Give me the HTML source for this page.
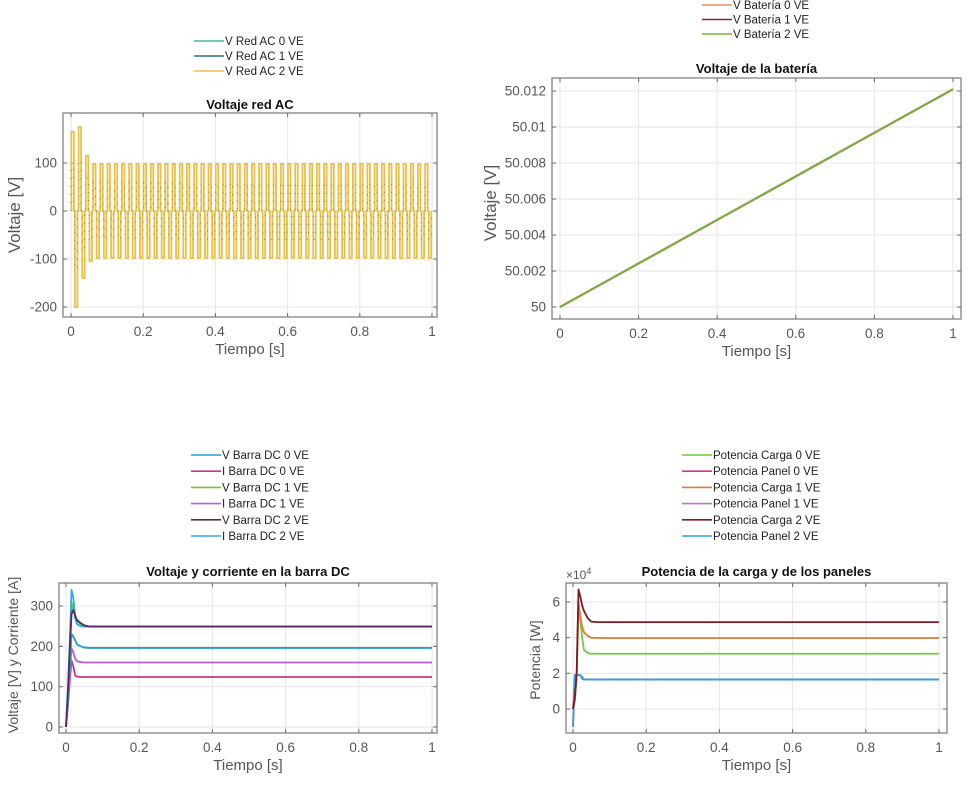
<!DOCTYPE html>
<html><head><meta charset="utf-8">
<style>
html,body{margin:0;padding:0;background:#fff;}
svg{display:block;font-family:"Liberation Sans",sans-serif;}
.tick{font-size:13.5px;fill:#555;}
.ttl{font-size:13px;font-weight:bold;fill:#111;}
.lab{font-size:15px;fill:#555;}
.leg{font-size:11.5px;fill:#222;}
</style></head>
<body>
<svg id="fig" width="972" height="786" viewBox="0 0 972 786"></svg>
<script>
// ---------- data ----------
const acTransientPeaks = [165, -200, 175, -140, 115, -105];
const acSteadyPeak = 98;
const acHalfCycles = 100;
const acFreq = 50;
const acLegend = ["V Red AC 0 VE", "V Red AC 1 VE", "V Red AC 2 VE"];
const acColors = ["#3cb8a0", "#2a6f8a", "#e8c04a"];

const batTime = [0, 1];
const batV0 = [50, 50.0121];
const batV1 = [50, 50.0121];
const batV2 = [50, 50.0121];
const batLegend = ["V Batería 0 VE", "V Batería 1 VE", "V Batería 2 VE"];
const batColors = ["#e0926a", "#8a2040", "#7ab040"];
const batYTicks = [50, 50.002, 50.004, 50.006, 50.008, 50.01, 50.012];

const dcTime = [0, 0.005, 0.01, 0.015, 0.02, 0.025, 0.03, 0.04, 0.05, 0.065, 1];
const dcV0 = [0, 60, 140, 230, 225, 215, 205, 200, 197, 196, 196];
const dcI0 = [0, 50, 110, 165, 150, 128, 125, 124, 124, 124, 124];
const dcV1 = [0, 80, 180, 280, 310, 280, 262, 255, 250, 249, 249];
const dcI1 = [0, 55, 125, 195, 185, 170, 163, 161, 160, 160, 160];
const dcV2 = [0, 80, 190, 280, 290, 275, 265, 258, 252, 249, 249];
const dcI2 = [0, 90, 200, 340, 320, 270, 255, 250, 249, 249, 249];
const dcLegend = ["V Barra DC 0 VE", "I Barra DC 0 VE", "V Barra DC 1 VE", "I Barra DC 1 VE", "V Barra DC 2 VE", "I Barra DC 2 VE"];
const dcColors = ["#1fa0d0", "#d0308a", "#70c830", "#b060d8", "#5a2860", "#30a8e8"];

const pTime = [0, 0.005, 0.01, 0.015, 0.02, 0.025, 0.03, 0.04, 0.05, 0.065, 1];
const pCarga0 = [0, 0.5, 1.8, 5.8, 5.0, 4.0, 3.3, 3.15, 3.1, 3.1, 3.1];
const pPanel0 = [-1, 1.9, 1.9, 1.9, 1.9, 1.7, 1.65, 1.65, 1.65, 1.65, 1.65];
const pCarga1 = [0, 0.5, 1.9, 6.0, 5.2, 4.6, 4.3, 4.1, 4.0, 3.98, 3.98];
const pPanel1 = [0, 1.9, 1.9, 1.9, 1.9, 1.75, 1.65, 1.65, 1.65, 1.65, 1.65];
const pCarga2 = [0, 0.6, 2.0, 6.7, 6.3, 5.8, 5.5, 5.1, 4.9, 4.87, 4.87];
const pPanel2 = [-1, 1.9, 1.9, 1.9, 1.9, 1.8, 1.65, 1.65, 1.65, 1.65, 1.65];
const pLegend = ["Potencia Carga 0 VE", "Potencia Panel 0 VE", "Potencia Carga 1 VE", "Potencia Panel 1 VE", "Potencia Carga 2 VE", "Potencia Panel 2 VE"];
const pColors = ["#70cc40", "#d8309a", "#e07838", "#c070d8", "#801828", "#30a0d8"];

const xTicks = [0, 0.2, 0.4, 0.6, 0.8, 1];
const xTickLabels = ["0", "0.2", "0.4", "0.6", "0.8", "1"];

// ---------- helpers ----------
const NS = "http://www.w3.org/2000/svg";
const fig = document.getElementById("fig");
function mk(tag, attrs, parent) {
  const e = document.createElementNS(NS, tag);
  for (const k in attrs) e.setAttribute(k, attrs[k]);
  (parent || fig).appendChild(e);
  return e;
}
function scale(d0, d1, r0, r1) { return v => r0 + (v - d0) * (r1 - r0) / (d1 - d0); }

function axes(name, box, sx, sy, yTicks, yLabels, title, ylab, titleY) {
  const g = mk("g", {});
  
  
  mk("rect", {x: box.l, y: box.t, width: box.r - box.l, height: box.b - box.t, fill: "#fff", stroke: "none"}, g);
  xTicks.forEach((v, i) => {
    const x = sx(v);
    mk("line", {x1: x, x2: x, y1: box.t, y2: box.b, stroke: "#e6e6e6"}, g);
    mk("line", {x1: x, x2: x, y1: box.b, y2: box.b - 4, stroke: "#666"}, g);
    mk("line", {x1: x, x2: x, y1: box.t, y2: box.t + 4, stroke: "#666"}, g);
    const t = mk("text", {x: x, y: box.b + 19, "text-anchor": "middle", class: "tick"}, g);
    t.textContent = xTickLabels[i];
    
    
  });
  yTicks.forEach((v, i) => {
    const y = sy(v);
    mk("line", {x1: box.l, x2: box.r, y1: y, y2: y, stroke: "#e6e6e6"}, g);
    mk("line", {x1: box.l, x2: box.l + 4, y1: y, y2: y, stroke: "#666"}, g);
    mk("line", {x1: box.r, x2: box.r - 4, y1: y, y2: y, stroke: "#666"}, g);
    const t = mk("text", {x: box.l - 6, y: y + 4.5, "text-anchor": "end", class: "tick"}, g);
    t.textContent = yLabels[i];
    
    
  });
  mk("rect", {x: box.l, y: box.t, width: box.r - box.l, height: box.b - box.t, fill: "none", stroke: "#777", "stroke-width": 1.2}, g);
  const tt = mk("text", {x: (box.l + box.r) / 2, y: titleY, "text-anchor": "middle", class: "ttl"}, g);
  tt.textContent = title;
  
  
  const xl = mk("text", {x: (box.l + box.r) / 2, y: box.b + 37, "text-anchor": "middle", class: "lab"}, g);
  xl.textContent = "Tiempo [s]";
  
  
  return g;
}
function ylabel(text, x, y, size) {
  const t = mk("text", {x: x, y: y, "text-anchor": "middle", class: "lab", transform: `rotate(-90 ${x} ${y})`, style: size ? `font-size:${size}px` : ""});
  t.textContent = text;
  
  
}
function legend(items, colors, x, y0, dy) {
  const g = mk("g", {});
  
  
  items.forEach((s, i) => {
    const y = y0 + i * dy;
    const e = mk("g", {}, g);
    
    
    mk("line", {x1: x, x2: x + 30, y1: y, y2: y, stroke: colors[i], "stroke-width": 1.6}, e);
    const t = mk("text", {x: x + 31, y: y + 4, class: "leg"}, e);
    t.textContent = s;
  });
}
function series(name, xs, ys, sx, sy, color, w) {
  const d = xs.map((v, i) => (i ? "L" : "M") + sx(v).toFixed(2) + " " + sy(ys[i]).toFixed(2)).join(" ");
  const p = mk("path", {d: d, fill: "none", stroke: color, "stroke-width": w || 1.8, "stroke-linejoin": "round"});
  
  
  return p;
}

// ---------- Chart 1: AC ----------
{
  const box = {l: 63, r: 437, t: 113, b: 317};
  const sx = scale(0, 1, 71, 432), sy = scale(0, 100, 211, 163);
  axes("ac-voltage-chart", box, sx, sy, [-200, -100, 0, 100], ["-200", "-100", "0", "100"], "Voltaje red AC", "", 109);
  ylabel("Voltaje [V]", 20, 215, 17);
  legend(acLegend, acColors, 194, 41, 15);
  const peaks = [];
  for (let k = 0; k < acHalfCycles; k++) peaks.push(k < acTransientPeaks.length ? acTransientPeaks[k] : (k % 2 ? -acSteadyPeak : acSteadyPeak));
  const xs = [], ys = [];
  const half = 1 / (2 * acFreq);
  peaks.forEach((pk, k) => {
    const t0 = k * half + half * 0.1;
    xs.push(t0, t0, t0 + half * 0.7, t0 + half * 0.7);
    ys.push(0, pk, pk, 0);
  });
  series("ac-voltage-line-2", xs, ys, sx, sy, acColors[2], 1.8);
  const ys2 = ys.map(v => v * 0.6);
  const p = series("ac-voltage-line-1", xs, ys2, sx, sy, "#7a8a30", 1);
  p.setAttribute("stroke-dasharray", "1 7");
}

// ---------- Chart 2: Battery ----------
{
  const box = {l: 552, r: 961, t: 78, b: 319};
  const sx = scale(0, 1, 560, 953), sy = scale(50, 50.012, 307, 91);
  axes("battery-voltage-chart", box, sx, sy, batYTicks, ["50", "50.002", "50.004", "50.006", "50.008", "50.01", "50.012"], "Voltaje de la batería", "", 73);
  ylabel("Voltaje [V]", 496, 203, 17);
  legend(batLegend, batColors, 702, 5, 14.5);
  series("battery-line-0", batTime, batV0, sx, sy, batColors[0], 2);
  series("battery-line-1", batTime, batV1, sx, sy, batColors[1], 2);
  series("battery-line-2", batTime, batV2, sx, sy, batColors[2], 2);
}

// ---------- Chart 3: DC bar ----------
{
  const box = {l: 59, r: 437, t: 583, b: 733};
  const sx = scale(0, 1, 66, 432), sy = scale(0, 300, 727, 606);
  axes("dc-bus-chart", box, sx, sy, [0, 100, 200, 300], ["0", "100", "200", "300"], "Voltaje y corriente en la barra DC", "", 576);
  ylabel("Voltaje [V] y Corriente [A]", 18, 655, 14);
  legend(dcLegend, dcColors, 191, 455, 16.2);
  const all = [dcV0, dcI0, dcV1, dcI1, dcV2, dcI2];
  const order = [1, 3, 0, 2, 5, 4];
  order.forEach(i => series("dc-line-" + i, dcTime, all[i], sx, sy, dcColors[i], 1.8));
}

// ---------- Chart 4: Power ----------
{
  const box = {l: 566, r: 947, t: 583, b: 733};
  const sx = scale(0, 1, 573, 939), sy = scale(0, 6, 709, 602);
  axes("power-chart", box, sx, sy, [0, 2, 4, 6], ["0", "2", "4", "6"], "Potencia de la carga y de los paneles", "", 576);
  ylabel("Potencia [W]", 540, 660, 14);
  const ex = mk("text", {x: 566, y: 579, class: "tick", style: "font-size:12px"});
  ex.innerHTML = "×10<tspan dy='-5' style='font-size:9px'>4</tspan>";
  
  
  legend(pLegend, pColors, 682, 455, 16.2);
  const all = [pCarga0, pPanel0, pCarga1, pPanel1, pCarga2, pPanel2];
  const order = [1, 3, 5, 0, 2, 4];
  order.forEach(i => series("power-line-" + i, pTime, all[i], sx, sy, pColors[i], 1.8));
}
</script>
</body></html>
